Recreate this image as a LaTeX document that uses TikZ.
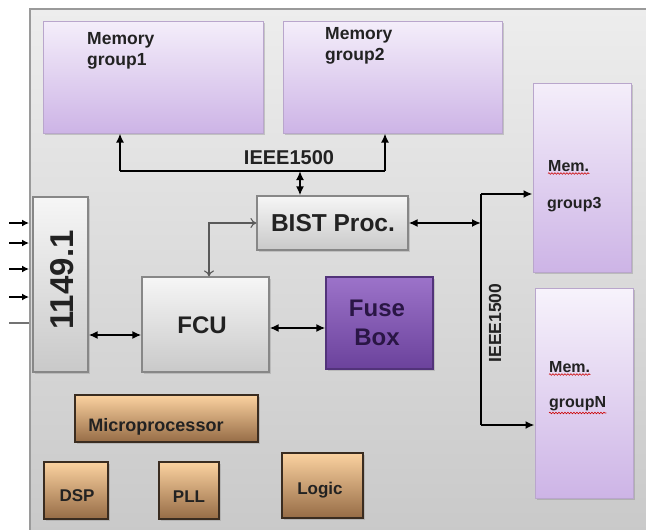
\documentclass[tikz,border=0pt]{standalone}
\usepackage{fontspec}
\setmainfont{Liberation Sans}
\usetikzlibrary{arrows.meta,shadows,decorations.pathmorphing}
\definecolor{chipT}{HTML}{EDEDED}
\definecolor{chipB}{HTML}{C8C8C8}
\definecolor{chipD}{HTML}{9A9A9A}
\definecolor{memT}{HTML}{F4EEFA}
\definecolor{memB}{HTML}{CDB4E6}
\definecolor{memD}{HTML}{B9A6CC}
\definecolor{gryT}{HTML}{F6F6F6}
\definecolor{gryB}{HTML}{C9C9C9}
\definecolor{gryD}{HTML}{878787}
\definecolor{orgT}{HTML}{FBD2A0}
\definecolor{orgB}{HTML}{966C46}
\definecolor{orgD}{HTML}{3A2C20}
\definecolor{fusT}{HTML}{9C73C9}
\definecolor{fusB}{HTML}{6B429C}
\definecolor{fusD}{HTML}{52337A}
\definecolor{fusTx}{HTML}{2A1645}
\definecolor{txt}{HTML}{222222}
\tikzset{
  chipbox/.style={draw=chipD, line width=1.5pt, top color=chipT, bottom color=chipB, inner sep=0pt},
  membox/.style={draw=memD, line width=1pt, top color=memT, bottom color=memB, inner sep=0pt,
     drop shadow={opacity=0.35, shadow xshift=1.5pt, shadow yshift=-2pt}},
  grybox/.style={draw=gryD, line width=1.2pt, top color=gryT, bottom color=gryB, inner sep=0pt,
     drop shadow={opacity=0.3, shadow xshift=1.5pt, shadow yshift=-1.5pt}},
  orgbox/.style={draw=orgD, line width=1.4pt, top color=orgT, bottom color=orgB, inner sep=0pt,
     drop shadow={opacity=0.3, shadow xshift=1.5pt, shadow yshift=-1.5pt}},
  fusbox/.style={draw=fusD, line width=1.2pt, top color=fusT, bottom color=fusB, inner sep=0pt,
     drop shadow={opacity=0.3, shadow xshift=1.5pt, shadow yshift=-1.5pt}},
  wire/.style={line width=2.1pt, black},
  bitip/.style={wire, {Latex[length=9pt,width=8pt]}-{Latex[length=9pt,width=8pt]}},
  onetip/.style={wire, -{Latex[length=9pt,width=8pt]}},
  thinarrow/.style={line width=1.1pt, draw=black!65, {To[length=6pt,width=10pt]}-{To[length=6pt,width=10pt]}},
  boldtxt/.style={font=\bfseries, text=txt, inner sep=0pt},
  squig/.style={draw=red!80!black, line width=0.6pt, decorate, decoration={snake, amplitude=0.8pt, segment length=3pt}}
}
\begin{document}
\begin{tikzpicture}[x=1pt,y=-1pt]
\useasboundingbox (0,0) rectangle (646,530);
\fill[white] (0,0) rectangle (646,530);
% chip outline
\node[chipbox, anchor=north west, minimum width=640pt, minimum height=540pt] (chip) at (29,8) {};
% memory boxes
\node[membox, minimum width=220pt, minimum height=112pt] (mg1) at (153,77) {};
\node[membox, minimum width=219pt, minimum height=112pt] (mg2) at (392.5,77) {};
\node[membox, minimum width=98pt, minimum height=189pt] (mg3) at (582,177.5) {};
\node[membox, minimum width=98pt, minimum height=210pt, top color=memT!70!white] (mgN) at (584,393) {};
\node[boldtxt, anchor=base west, align=left, font=\bfseries\fontsize{17.5}{21}\selectfont] (t1) at (87,65) {Memory\\group1};
\node[boldtxt, anchor=base west, align=left, font=\bfseries\fontsize{17.5}{21}\selectfont] (t2) at (325,60) {Memory\\group2};
\node[boldtxt, anchor=base west, font=\bfseries\fontsize{16}{18}\selectfont] (t3a) at (548,171) {Mem.};
\node[boldtxt, anchor=base west, font=\bfseries\fontsize{16}{18}\selectfont] (t3b) at (547,208) {group3};
\node[boldtxt, anchor=base west, font=\bfseries\fontsize{16}{18}\selectfont] (tNa) at (549,372) {Mem.};
\node[boldtxt, anchor=base west, font=\bfseries\fontsize{16}{18}\selectfont] (tNb) at (549,407) {groupN};
\draw[squig] ([yshift=-2.5pt]t3a.base west) -- ([yshift=-2.5pt]t3a.base east);
\draw[squig] ([yshift=-2.5pt]tNa.base west) -- ([yshift=-2.5pt]tNa.base east);
\draw[squig] ([yshift=-6pt]tNb.base west) -- ([yshift=-6pt]tNb.base east);
% gray blocks
\node[grybox, minimum width=55pt, minimum height=175pt] (jtag) at (60.5,284.5) {};
\node[boldtxt, rotate=90, font=\bfseries\fontsize{33}{36}\selectfont] (jtagt) at (62,280) {1149.1};
\node[grybox, minimum width=151pt, minimum height=54pt] (bist) at (332.5,223) {};
\node[boldtxt, font=\bfseries\fontsize{24.5}{26}\selectfont] (bistt) at (333,223) {BIST Proc.};
\node[grybox, minimum width=127pt, minimum height=95pt] (fcu) at (205.5,324.5) {};
\node[boldtxt, font=\bfseries\fontsize{24}{26}\selectfont] (fcut) at (202,325) {FCU};
\node[fusbox, minimum width=107pt, minimum height=92pt] (fuse) at (379.5,323) {};
\node[boldtxt, align=center, text=fusTx, font=\bfseries\fontsize{24}{29}\selectfont] (fuset) at (377,323) {Fuse\\Box};
% orange blocks
\node[orgbox, minimum width=183pt, minimum height=47pt] (micro) at (166.5,418.5) {};
\node[boldtxt, font=\bfseries\fontsize{18}{20}\selectfont] (microt) at (156,427) {Microprocessor};
\node[orgbox, minimum width=64pt, minimum height=57pt] (dsp) at (76,490.5) {};
\node[boldtxt, font=\bfseries\fontsize{17}{18}\selectfont] (dspt) at (77,496) {DSP};
\node[orgbox, minimum width=60pt, minimum height=57pt] (pll) at (189,490.5) {};
\node[boldtxt, font=\bfseries\fontsize{17}{18}\selectfont] (pllt) at (189,497) {PLL};
\node[orgbox, minimum width=81pt, minimum height=65pt] (logic) at (322.5,485.5) {};
\node[boldtxt, font=\bfseries\fontsize{17}{18}\selectfont] (logict) at (320,490) {Logic};
% top IEEE1500 bus
\coordinate (busL) at (120,171);
\coordinate (busR) at (385,171);
\coordinate (busM) at (300,171);
\draw[wire] (busL) -- (busR);
\draw[onetip] (busL) -- (busL |- mg1.south);
\draw[onetip] (busR) -- (busR |- mg2.south);
\draw[bitip] (busM) -- (busM |- bist.north);
\node[boldtxt, font=\bfseries\fontsize{20}{22}\selectfont] (ieeeT) at (289,158) {IEEE1500};
% right IEEE1500 bus
\coordinate (rbT) at (481,194);
\coordinate (rbB) at (481,425);
\draw[wire] (rbT) -- (rbB);
\draw[onetip] (rbT) -- (rbT -| mg3.west);
\draw[onetip] (rbB) -- (rbB -| mgN.west);
\draw[bitip] (bist.east) -- (bist.east -| rbT);
\node[boldtxt, rotate=90, font=\bfseries\fontsize{17.5}{18}\selectfont] (ieeeR) at (495,323) {IEEE1500};
% FCU links
\coordinate (jf) at (0,335);
\draw[bitip] (jtag.east |- jf) -- (fcu.west |- jf);
\coordinate (ff) at (0,328);
\draw[bitip] (fcu.east |- ff) -- (fuse.west |- ff);
\coordinate (tg) at (209,0);
\draw[thinarrow] (bist.west) -| (fcu.north -| tg);
% JTAG inputs
\foreach \yy [count=\i] in {223,243,269,297}{
  \coordinate (in\i) at (9,\yy);
  \draw[line width=2pt, -{Latex[length=7pt,width=7pt]}] (in\i) -- (in\i -| chip.west);
}
\coordinate (in5) at (9,323);
\draw[line width=2pt, draw=black!55] (in5) -- (in5 -| chip.west);
\end{tikzpicture}
\end{document}
